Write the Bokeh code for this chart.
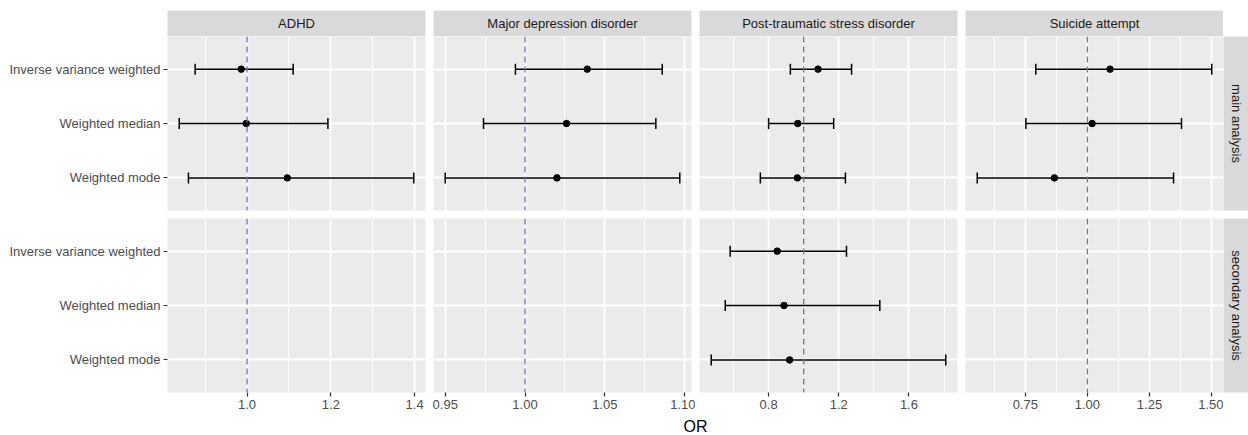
import math
from bokeh.plotting import figure
from bokeh.layouts import row, column
from bokeh.models import (ColumnDataSource, FactorRange, Range1d, FixedTicker,
                          Whisker, TeeHead, Span)
from bokeh.core.properties import value
from bokeh.embed import file_html
from bokeh.resources import INLINE

# ---------------- data ----------------
outcomes = ["ADHD", "Major depression disorder",
            "Post-traumatic stress disorder", "Suicide attempt"]
methods = ["Inverse variance weighted", "Weighted median", "Weighted mode"]
analyses = ["main analysis", "secondary analysis"]

adhd_main_or = [0.986, 0.998, 1.096]
adhd_main_lo = [0.876, 0.838, 0.860]
adhd_main_hi = [1.110, 1.193, 1.398]

mdd_main_or = [1.039, 1.026, 1.020]
mdd_main_lo = [0.994, 0.974, 0.950]
mdd_main_hi = [1.086, 1.082, 1.097]

ptsd_main_or = [1.082, 0.966, 0.964]
ptsd_main_lo = [0.924, 0.800, 0.753]
ptsd_main_hi = [1.273, 1.171, 1.238]

ptsd_sec_or = [0.849, 0.888, 0.920]
ptsd_sec_lo = [0.581, 0.553, 0.473]
ptsd_sec_hi = [1.244, 1.434, 1.810]

sui_main_or = [1.091, 1.019, 0.867]
sui_main_lo = [0.792, 0.752, 0.556]
sui_main_hi = [1.501, 1.379, 1.347]

adhd_ticks = [1.0, 1.2, 1.4]
adhd_tick_labels = ["1.0", "1.2", "1.4"]
adhd_minor = [0.9, 1.1, 1.3]

mdd_ticks = [0.95, 1.00, 1.05, 1.10]
mdd_tick_labels = ["0.95", "1.00", "1.05", "1.10"]
mdd_minor = [0.975, 1.025, 1.075]

ptsd_ticks = [0.8, 1.2, 1.6]
ptsd_tick_labels = ["0.8", "1.2", "1.6"]
ptsd_minor = [0.6, 1.0, 1.4, 1.8]

sui_ticks = [0.75, 1.00, 1.25, 1.50]
sui_tick_labels = ["0.75", "1.00", "1.25", "1.50"]
sui_minor = [0.625, 0.875, 1.125, 1.375]

null_or = 1.0

panel_data = {
    "ADHD": {"main analysis": (adhd_main_or, adhd_main_lo, adhd_main_hi),
             "secondary analysis": None},
    "Major depression disorder": {"main analysis": (mdd_main_or, mdd_main_lo, mdd_main_hi),
                                  "secondary analysis": None},
    "Post-traumatic stress disorder": {"main analysis": (ptsd_main_or, ptsd_main_lo, ptsd_main_hi),
                                       "secondary analysis": (ptsd_sec_or, ptsd_sec_lo, ptsd_sec_hi)},
    "Suicide attempt": {"main analysis": (sui_main_or, sui_main_lo, sui_main_hi),
                        "secondary analysis": None},
}
tick_info = {
    "ADHD": (adhd_ticks, adhd_tick_labels, adhd_minor),
    "Major depression disorder": (mdd_ticks, mdd_tick_labels, mdd_minor),
    "Post-traumatic stress disorder": (ptsd_ticks, ptsd_tick_labels, ptsd_minor),
    "Suicide attempt": (sui_ticks, sui_tick_labels, sui_minor),
}

# ---------------- style ----------------
FONT = "Liberation Sans"
PANEL_BG = "#EBEBEB"
STRIP_BG = "#D9D9D9"
FW, FH = 258, 174
LEFT = 167
GAP = 4
STRIP_W = 25
STRIP_H = 26
TOP_PAD = 10
ROW_GAP = 8
XAXIS_H = 24
OR_H = 19
TOTAL_W = 1248


def col_borders(i):
    left = LEFT if i == 0 else GAP
    right = 0 if i == 3 else GAP
    return left, right


def make_fig(width, height, xr, yr, **kw):
    p = figure(width=width, height=height, x_range=xr, y_range=yr,
               output_backend="svg", toolbar_location=None, title=None, **kw)
    p.background_fill_color = PANEL_BG
    p.border_fill_color = "white"
    p.outline_line_color = None
    return p


x_ranges = {}
for oc in outcomes:
    los, his = [], []
    for an in analyses:
        d = panel_data[oc][an]
        if d is not None:
            los += d[1]
            his += d[2]
    lo, hi = min(los), max(his)
    pad = 0.05 * (hi - lo)
    x_ranges[oc] = Range1d(lo - pad, hi + pad)

# ---------------- strip row ----------------
strip_row = []
for i, oc in enumerate(outcomes):
    l, r = col_borders(i)
    s = make_fig(l + FW + r, TOP_PAD + STRIP_H, Range1d(0, 1), Range1d(0, 1),
                 x_axis_location=None, y_axis_location=None,
                 min_border_left=l, min_border_right=r,
                 min_border_top=TOP_PAD, min_border_bottom=0)
    s.background_fill_color = STRIP_BG
    s.grid.visible = False
    s.text(x=[0.5], y=[0.5], text=[oc], text_align="center", text_baseline="middle",
           text_font=value(FONT), text_font_size="13px", text_color="#1A1A1A")
    strip_row.append(s)

# ---------------- panel rows ----------------
rows = []
for ai, an in enumerate(analyses):
    is_bottom = ai == len(analyses) - 1
    bottom = XAXIS_H if is_bottom else ROW_GAP
    figs = []
    for i, oc in enumerate(outcomes):
        l, r = col_borders(i)
        yr = FactorRange(factors=list(reversed(methods)),
                         range_padding=0.1, range_padding_units="absolute")
        p = make_fig(l + FW + r, FH + bottom, x_ranges[oc], yr,
                     x_axis_location="below" if is_bottom else None,
                     y_axis_location="left" if i == 0 else None,
                     min_border_left=l, min_border_right=r,
                     min_border_top=0, min_border_bottom=bottom)
        ticks, labels, minor = tick_info[oc]
        ticker = FixedTicker(ticks=ticks, minor_ticks=minor)
        p.xgrid.ticker = ticker
        p.xgrid.grid_line_color = "white"
        p.xgrid.grid_line_width = 1.8
        p.xgrid.minor_grid_line_color = "white"
        p.xgrid.minor_grid_line_width = 0.9
        p.ygrid.grid_line_color = "white"
        p.ygrid.grid_line_width = 1.8
        if is_bottom:
            ax = p.xaxis[0]
            ax.ticker = ticker
            ax.major_label_overrides = {t: lab for t, lab in zip(ticks, labels)}
            ax.axis_line_color = None
            ax.major_tick_line_color = "#333333"
            ax.major_tick_line_width = 1.2
            ax.major_tick_out = 4
            ax.major_tick_in = 0
            ax.minor_tick_line_color = None
            ax.major_label_standoff = 3
            ax.major_label_text_font = FONT
            ax.major_label_text_font_size = "13px"
            ax.major_label_text_color = "#4D4D4D"
        if i == 0:
            ay = p.yaxis[0]
            ay.axis_line_color = None
            ay.major_tick_line_color = "#333333"
            ay.major_tick_line_width = 1.2
            ay.major_tick_out = 4
            ay.major_tick_in = 0
            ay.major_label_standoff = 3
            ay.major_label_text_font = FONT
            ay.major_label_text_font_size = "13px"
            ay.major_label_text_color = "#4D4D4D"

        p.add_layout(Span(location=null_or, dimension="height", line_color="#7070C0",
                          line_dash="6 4", line_width=1.3))

        d = panel_data[oc][an]
        if d is not None:
            src = ColumnDataSource(dict(method=methods, est=d[0], lo=d[1], hi=d[2]))
            w = Whisker(source=src, base="method", lower="lo", upper="hi",
                        dimension="width", line_color="black", line_width=1.5,
                        upper_head=TeeHead(size=11, line_color="black", line_width=1.5),
                        lower_head=TeeHead(size=11, line_color="black", line_width=1.5))
            p.add_layout(w)
            p.scatter(x="est", y="method", source=src, size=6.5, color="black")
        figs.append(p)

    rs = make_fig(STRIP_W, FH + bottom, Range1d(0, 1), Range1d(0, 1),
                  x_axis_location=None, y_axis_location=None,
                  min_border_left=0, min_border_right=0,
                  min_border_top=0, min_border_bottom=bottom)
    rs.background_fill_color = STRIP_BG
    rs.grid.visible = False
    rs.text(x=[0.5], y=[0.5], text=[an], angle=-math.pi / 2,
            text_align="center", text_baseline="middle",
            text_font=value(FONT), text_font_size="13px", text_color="#1A1A1A")
    figs.append(rs)
    rows.append(row(*figs))

# ---------------- x axis title ----------------
orf = figure(width=TOTAL_W, height=OR_H, x_range=Range1d(0, 1), y_range=Range1d(0, 1),
             output_backend="svg", toolbar_location=None, title=None,
             x_axis_location=None, y_axis_location=None,
             min_border_left=LEFT, min_border_right=STRIP_W,
             min_border_top=0, min_border_bottom=0)
orf.background_fill_color = "white"
orf.border_fill_color = "white"
orf.outline_line_color = None
orf.grid.visible = False
orf.text(x=[0.5], y=[0.5], text=["OR"], text_align="center", text_baseline="middle",
         text_font=value(FONT), text_font_size="16px", text_color="black")

layout = column(row(*strip_row), *rows, orf)

open("out.html", "w").write(file_html(layout, INLINE))
